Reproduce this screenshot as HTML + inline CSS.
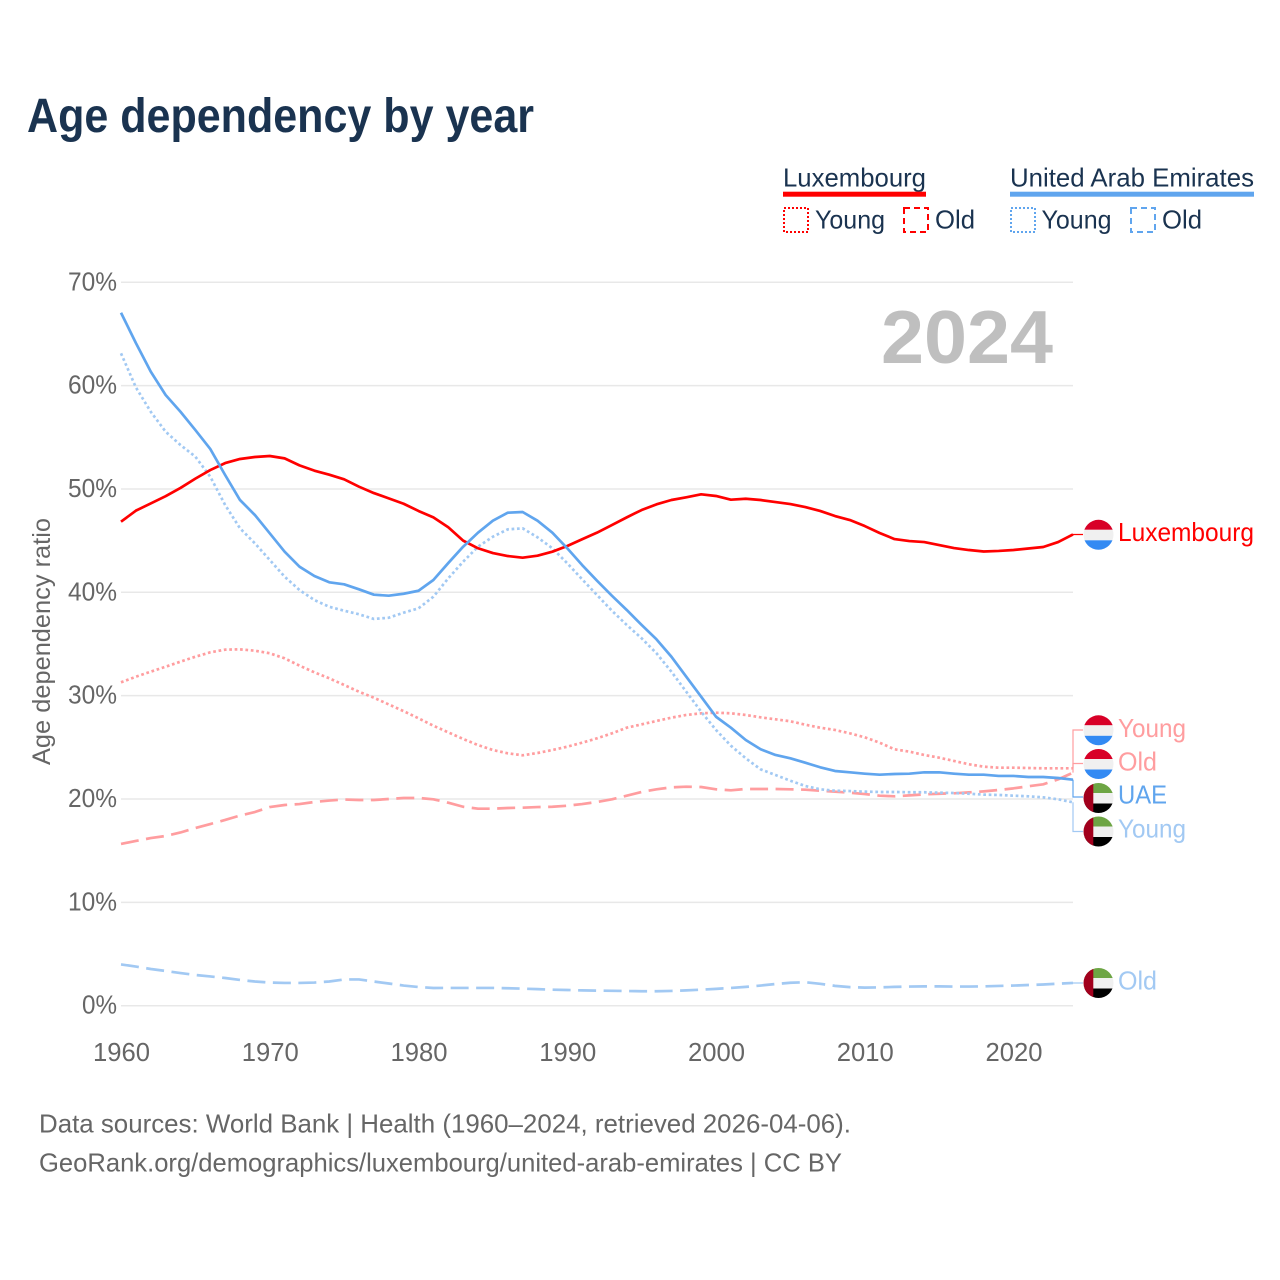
<!DOCTYPE html>
<html lang="en">
<head>
<meta charset="utf-8">
<title>Age dependency by year</title>
<style>
html,body{margin:0;padding:0;background:#fff;width:1280px;height:1280px;overflow:hidden}
svg{display:block}
text{font-family:"Liberation Sans",sans-serif;font-size:26px}
.ink{fill:#1a3350}
.grey{fill:#666}
</style>
</head>
<body>
<svg id="chart" xmlns="http://www.w3.org/2000/svg" width="1280" height="1280" viewBox="0 0 1280 1280">
  <defs>
    <clipPath id="flag-clip"><circle cx="0" cy="0" r="15"/></clipPath>
    <g id="flag-lux" clip-path="url(#flag-clip)">
      <rect x="-16" y="-16" width="32" height="11" fill="#d80027"/>
      <rect x="-16" y="-5" width="32" height="10.5" fill="#f0f0f0"/>
      <rect x="-16" y="5.5" width="32" height="11" fill="#338af3"/>
    </g>
    <g id="flag-uae" clip-path="url(#flag-clip)">
      <rect x="-16" y="-16" width="32" height="11" fill="#6da544"/>
      <rect x="-16" y="-5" width="32" height="10.5" fill="#f0f0f0"/>
      <rect x="-16" y="5.5" width="32" height="11" fill="#000"/>
      <rect x="-16" y="-16" width="10.8" height="32" fill="#a2001d"/>
    </g>
  </defs>
  <rect width="1280" height="1280" fill="#fff"/>
  <text x="27" y="132" textLength="507" lengthAdjust="spacingAndGlyphs" font-weight="bold" style="font-size:48px" class="ink">Age dependency by year</text>

  <g>
    <text x="783" y="186.5" textLength="143" lengthAdjust="spacingAndGlyphs" class="ink">Luxembourg</text>
    <rect x="783" y="191.7" width="143" height="5" fill="#ff0000"/>
    <rect x="784" y="208" width="24" height="24" fill="none" stroke="#ff0000" stroke-width="2" stroke-dasharray="2 2"/>
    <text x="815" y="228.5" textLength="70" lengthAdjust="spacingAndGlyphs" class="ink">Young</text>
    <rect x="904" y="208" width="24" height="24" fill="none" stroke="#ff0000" stroke-width="2" stroke-dasharray="6 4"/>
    <text x="935" y="228.5" textLength="40" lengthAdjust="spacingAndGlyphs" class="ink">Old</text>
    <text x="1010" y="186.5" textLength="244" lengthAdjust="spacingAndGlyphs" class="ink">United Arab Emirates</text>
    <rect x="1010" y="191.7" width="244" height="5" fill="#60a5ee"/>
    <rect x="1011" y="208" width="24" height="24" fill="none" stroke="#60a5ee" stroke-width="2" stroke-dasharray="2 2"/>
    <text x="1041.5" y="228.5" textLength="70" lengthAdjust="spacingAndGlyphs" class="ink">Young</text>
    <rect x="1131" y="208" width="24" height="24" fill="none" stroke="#60a5ee" stroke-width="2" stroke-dasharray="6 4"/>
    <text x="1162" y="228.5" textLength="40" lengthAdjust="spacingAndGlyphs" class="ink">Old</text>
  </g>

  <g id="grid"></g>
  <g id="y-ticks"></g>
  <g id="x-ticks"></g>
  <text transform="translate(50,765) rotate(-90)" x="0" y="0" textLength="247" lengthAdjust="spacingAndGlyphs" style="font-size:25px" class="grey">Age dependency ratio</text>
  <text x="881" y="363" textLength="172" lengthAdjust="spacingAndGlyphs" font-weight="bold" style="font-size:75px" fill="#bfbfbf">2024</text>

  <g id="series"></g>
  <g id="connectors"></g>

  <g>
    <use href="#flag-lux" transform="translate(1098.5,534.8)"/>
    <text x="1118" y="541" textLength="136" lengthAdjust="spacingAndGlyphs" fill="#ff0000">Luxembourg</text>
    <use href="#flag-lux" transform="translate(1098.5,730.3)"/>
    <text x="1118" y="737" textLength="68" lengthAdjust="spacingAndGlyphs" fill="#ff9d9f">Young</text>
    <use href="#flag-lux" transform="translate(1098.5,764)"/>
    <text x="1118" y="770.5" textLength="39" lengthAdjust="spacingAndGlyphs" fill="#ff9d9f">Old</text>
    <use href="#flag-uae" transform="translate(1098.5,798)"/>
    <text x="1118" y="803.5" textLength="49" lengthAdjust="spacingAndGlyphs" fill="#60a5ee">UAE</text>
    <use href="#flag-uae" transform="translate(1098.5,831.5)"/>
    <text x="1118" y="837.5" textLength="68" lengthAdjust="spacingAndGlyphs" fill="#a2c9f3">Young</text>
    <use href="#flag-uae" transform="translate(1098.5,983)"/>
    <text x="1118" y="989.5" textLength="39" lengthAdjust="spacingAndGlyphs" fill="#a2c9f3">Old</text>
  </g>

  <text x="39" y="1132.5" textLength="812" lengthAdjust="spacingAndGlyphs" class="grey">Data sources: World Bank | Health (1960–2024, retrieved 2026-04-06).</text>
  <text x="39" y="1171.5" textLength="803" lengthAdjust="spacingAndGlyphs" class="grey">GeoRank.org/demographics/luxembourg/united-arab-emirates | CC BY</text>
</svg>
<script>
const startYear = 1960;
const endYear = 2024;
const yTickValues = [0, 10, 20, 30, 40, 50, 60, 70];
const xTickValues = [1960, 1970, 1980, 1990, 2000, 2010, 2020];

const luxTotal = [46.83,47.9,48.6,49.3,50.1,51.0,51.83,52.5,52.9,53.09,53.19,52.96,52.28,51.77,51.38,50.93,50.22,49.6,49.09,48.57,47.87,47.25,46.29,45.0,44.26,43.8,43.51,43.35,43.54,43.93,44.48,45.13,45.77,46.51,47.25,47.96,48.51,48.93,49.19,49.48,49.32,48.96,49.05,48.93,48.73,48.54,48.25,47.87,47.38,46.99,46.41,45.74,45.15,44.96,44.86,44.57,44.28,44.09,43.95,44.0,44.09,44.24,44.38,44.86,45.6];
const luxYoung = [31.29,31.83,32.32,32.8,33.29,33.77,34.19,34.45,34.48,34.35,34.1,33.61,32.9,32.26,31.68,31.03,30.38,29.8,29.15,28.5,27.81,27.09,26.45,25.81,25.22,24.74,24.42,24.23,24.45,24.74,25.06,25.45,25.87,26.35,26.9,27.22,27.55,27.87,28.13,28.29,28.35,28.29,28.13,27.9,27.71,27.52,27.19,26.9,26.68,26.35,25.97,25.45,24.81,24.58,24.26,24.0,23.68,23.36,23.13,23.03,23.03,23.0,22.97,22.97,22.97];
const luxOld = [15.65,15.94,16.22,16.42,16.76,17.19,17.58,17.97,18.4,18.74,19.22,19.42,19.51,19.71,19.85,19.95,19.9,19.9,20.0,20.1,20.1,19.97,19.64,19.25,19.06,19.06,19.13,19.16,19.22,19.25,19.35,19.51,19.71,19.97,20.32,20.68,20.94,21.13,21.19,21.16,20.94,20.84,20.97,20.97,20.97,20.94,20.9,20.8,20.71,20.61,20.48,20.32,20.26,20.35,20.45,20.51,20.55,20.64,20.74,20.87,21.03,21.23,21.42,21.9,22.55];
const uaeTotal = [67.05,64.12,61.35,59.09,57.47,55.7,53.87,51.35,48.93,47.48,45.71,43.93,42.48,41.58,40.97,40.77,40.29,39.77,39.67,39.86,40.15,41.19,42.83,44.41,45.77,46.93,47.7,47.77,46.93,45.77,44.26,42.64,41.12,39.67,38.29,36.84,35.45,33.77,31.83,29.9,27.96,26.9,25.71,24.81,24.26,23.94,23.51,23.07,22.71,22.58,22.45,22.35,22.42,22.45,22.58,22.58,22.45,22.35,22.35,22.23,22.23,22.13,22.13,22.03,21.87];
const uaeYoung = [63.12,59.83,57.47,55.54,54.25,53.12,51.19,48.45,46.19,44.74,43.13,41.51,40.22,39.25,38.6,38.22,37.87,37.42,37.54,38.03,38.45,39.57,41.35,42.96,44.41,45.38,46.09,46.19,45.32,44.26,42.81,41.26,39.74,38.22,36.84,35.55,34.1,32.32,30.38,28.45,26.68,25.16,23.94,22.87,22.32,21.77,21.26,20.94,20.8,20.77,20.71,20.68,20.68,20.65,20.65,20.61,20.58,20.51,20.42,20.39,20.32,20.26,20.16,19.97,19.68];
const uaeOld = [3.99,3.79,3.55,3.36,3.16,2.97,2.83,2.68,2.49,2.34,2.24,2.2,2.2,2.24,2.34,2.54,2.54,2.34,2.15,1.95,1.81,1.71,1.72,1.72,1.72,1.72,1.69,1.65,1.6,1.55,1.52,1.48,1.46,1.44,1.42,1.4,1.4,1.43,1.48,1.55,1.63,1.72,1.82,1.95,2.1,2.22,2.27,2.12,1.92,1.8,1.75,1.77,1.82,1.85,1.87,1.87,1.85,1.85,1.87,1.91,1.95,2.0,2.05,2.13,2.2];

const NS = 'http://www.w3.org/2000/svg';
const plotLeft = 121, plotRight = 1073, y0 = 1005.7, pxPerUnit = 10.335;
function xScale(year) { return plotLeft + (year - startYear) * (plotRight - plotLeft) / (endYear - startYear); }
function yScale(v) { return y0 - v * pxPerUnit; }

const gridG = document.getElementById('grid');
const yG = document.getElementById('y-ticks');
const xG = document.getElementById('x-ticks');
const seriesG = document.getElementById('series');
const connG = document.getElementById('connectors');

yTickValues.forEach(function (t) {
  const line = document.createElementNS(NS, 'line');
  
  
  line.setAttribute('x1', plotLeft);
  line.setAttribute('x2', plotRight);
  line.setAttribute('y1', yScale(t));
  line.setAttribute('y2', yScale(t));
  line.setAttribute('stroke', '#e8e8e8');
  line.setAttribute('stroke-width', '1.5');
  gridG.appendChild(line);
  const label = document.createElementNS(NS, 'text');
  
  
  label.setAttribute('x', t === 0 ? 82 : 68);
  label.setAttribute('y', yScale(t) + 8);
  label.setAttribute('textLength', t === 0 ? 35 : 49);
  label.setAttribute('lengthAdjust', 'spacingAndGlyphs');
  label.setAttribute('class', 'grey');
  label.textContent = t + '%';
  yG.appendChild(label);
});

xTickValues.forEach(function (t) {
  const label = document.createElementNS(NS, 'text');
  
  
  label.setAttribute('x', xScale(t) - 28);
  label.setAttribute('y', 1061);
  label.setAttribute('textLength', 57);
  label.setAttribute('lengthAdjust', 'spacingAndGlyphs');
  label.setAttribute('class', 'grey');
  label.textContent = String(t);
  xG.appendChild(label);
});

function linePath(values) {
  return values.map(function (v, i) {
    return (i ? 'L' : 'M') + xScale(startYear + i).toFixed(2) + ' ' + yScale(v).toFixed(2);
  }).join(' ');
}

function drawSeries(values, name, color, dash) {
  const path = document.createElementNS(NS, 'path');
  
  
  path.setAttribute('d', linePath(values));
  path.setAttribute('fill', 'none');
  path.setAttribute('stroke', color);
  path.setAttribute('stroke-width', '2.7');
  path.setAttribute('stroke-linejoin', 'round');
  if (dash) path.setAttribute('stroke-dasharray', dash);
  seriesG.appendChild(path);
}

const lightRed = '#ff9d9f', lightBlue = '#a2c9f3';
drawSeries(luxOld, 'line-luxembourg-old', lightRed, '18 7.5');
drawSeries(uaeOld, 'line-uae-old', lightBlue, '18 7.5');
drawSeries(luxYoung, 'line-luxembourg-young', lightRed, '2.7 2.7');
drawSeries(uaeYoung, 'line-uae-young', lightBlue, '2.7 2.7');
drawSeries(luxTotal, 'line-luxembourg-total', '#ff0000', '');
drawSeries(uaeTotal, 'line-uae-total', '#60a5ee', '');

function drawConnector(value, labelY, name, color) {
  const y = yScale(value);
  const path = document.createElementNS(NS, 'path');
  
  
  path.setAttribute('d', 'M' + plotRight + ' ' + y.toFixed(2) + ' L' + plotRight + ' ' + labelY + ' L1083 ' + labelY);
  path.setAttribute('fill', 'none');
  path.setAttribute('stroke', color);
  path.setAttribute('stroke-width', '1.2');
  connG.appendChild(path);
}
drawConnector(luxTotal[luxTotal.length - 1], 534.5, 'connector-luxembourg', '#ff0000');
drawConnector(luxYoung[luxYoung.length - 1], 730, 'connector-luxembourg-young', lightRed);
drawConnector(luxOld[luxOld.length - 1], 763.5, 'connector-luxembourg-old', lightRed);
drawConnector(uaeTotal[uaeTotal.length - 1], 797, 'connector-uae', '#60a5ee');
drawConnector(uaeYoung[uaeYoung.length - 1], 831.5, 'connector-uae-young', lightBlue);
drawConnector(uaeOld[uaeOld.length - 1], 983, 'connector-uae-old', lightBlue);
</script>
</body>
</html>
